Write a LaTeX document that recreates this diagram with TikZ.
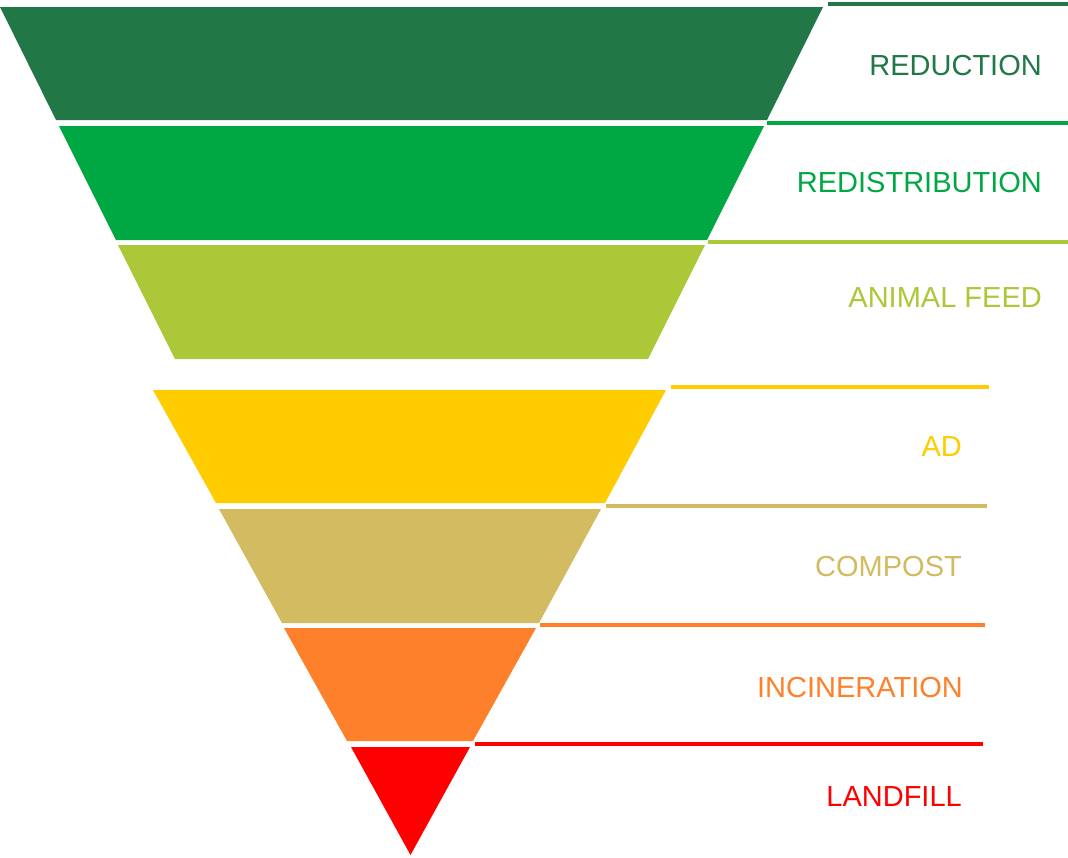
\documentclass[tikz,border=0pt]{standalone}
\usepackage{fontspec}
\setmainfont{Liberation Sans}
\definecolor{cReduction}{RGB}{33,120,70}
\definecolor{cRedist}{RGB}{0,168,68}
\definecolor{cFeed}{RGB}{171,200,56}
\definecolor{cAD}{RGB}{255,204,0}
\definecolor{cCompost}{RGB}{210,187,96}
\definecolor{cIncin}{RGB}{255,128,42}
\definecolor{cLandfill}{RGB}{255,0,0}
\begin{document}
\begin{tikzpicture}[x=1pt,y=-1pt,
  band/.style={fill=#1,draw=none},
  rule/.style={draw=#1,line width=4pt},
  lbl/.style={text=#1,font=\fontsize{29}{31}\selectfont,inner sep=0pt,anchor=base east}]
\useasboundingbox[fill=white] (0,0) rectangle (1068,857);
% bands
\fill[band=cReduction] (0,7) -- (823,7) -- (767,120) -- (56,120) -- cycle;
\fill[band=cRedist] (59,126) -- (764,126) -- (707,240) -- (116,240) -- cycle;
\fill[band=cFeed] (118,245) -- (705,245) -- (648,359) -- (175,359) -- cycle;
\fill[band=cAD] (153,390) -- (666,390) -- (605,503) -- (216,503) -- cycle;
\fill[band=cCompost] (219,509) -- (601,509) -- (539,623) -- (282,623) -- cycle;
\fill[band=cIncin] (284,628) -- (536,628) -- (473,741) -- (347,741) -- cycle;
\fill[band=cLandfill] (351,747) -- (470,747) -- (410.5,855) -- cycle;
% rules
\draw[rule=cReduction] (828,4) -- (1068,4);
\draw[rule=cRedist] (767,123) -- (1068,123);
\draw[rule=cFeed] (708,242) -- (1068,242);
\draw[rule=cAD] (671,387) -- (989,387);
\draw[rule=cCompost] (606,506) -- (987,506);
\draw[rule=cIncin] (540,625) -- (985,625);
\draw[rule=cLandfill] (475,744) -- (983,744);
% labels
\node[lbl=cReduction] (reduction) at (1042,75.5) {REDUCTION};
\node[lbl=cRedist] (redistribution) at (1042,192.5) {REDISTRIBUTION};
\node[lbl=cFeed] (feed) at (1042,307.5) {ANIMAL FEED};
\node[lbl=cAD] (ad) at (962,456) {AD};
\node[lbl=cCompost] (compost) at (962,576.5) {COMPOST};
\node[lbl=cIncin] (incineration) at (963,697) {INCINERATION};
\node[lbl=cLandfill] (landfill) at (962,806) {LANDFILL};
\end{tikzpicture}
\end{document}
